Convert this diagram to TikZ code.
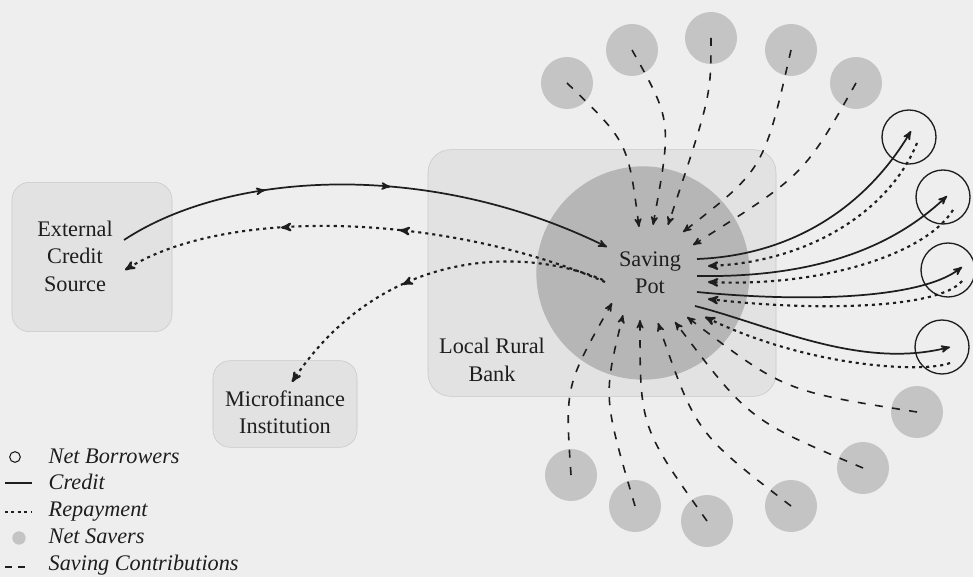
\documentclass[tikz,border=0pt]{standalone}
\usepackage{fontspec}
\setmainfont{Liberation Serif}
\usetikzlibrary{arrows,calc,decorations.markings}

\definecolor{bgcol}{HTML}{EEEEEE}
\definecolor{boxcol}{HTML}{E2E2E2}
\definecolor{boxline}{HTML}{C8C8C8}
\definecolor{potcol}{HTML}{B6B6B6}
\definecolor{savercol}{HTML}{C4C4C4}
\definecolor{inkcol}{HTML}{1E1E1E}

\tikzset{
  inst/.style={draw=boxline, fill=boxcol, rounded corners=13pt},
  lbl/.style={text=inkcol, align=center, font=\fontsize{16.7}{20.6}\selectfont},
  lgd/.style={text=inkcol, anchor=base west, font=\fontsize{16.7}{20.6}\selectfont\itshape},
  saver/.style={circle, fill=savercol, minimum size=39pt, inner sep=0pt},
  borrower/.style={circle, draw=inkcol, line width=1pt, minimum size=40.5pt, inner sep=0pt},
  credit/.style={draw=inkcol, line width=1.3pt, -stealth'},
  repay/.style={draw=inkcol, line width=1.6pt, dash pattern=on 2.3pt off 3pt, -stealth'},
  contrib/.style={draw=inkcol, line width=1.2pt, dash pattern=on 6pt off 7pt, -stealth'},
  midarrows/.style 2 args={postaction={decorate}, decoration={markings,
    mark=at position #1 with {\arrow{stealth'}},
    mark=at position #2 with {\arrow{stealth'}}}},
}

\begin{document}
\begin{tikzpicture}[x=0.75pt, y=-0.75pt]
  \fill[bgcol] (0,0) rectangle (973,577);
  \useasboundingbox (0,0) rectangle (973,577);

  % institutions
  \node[inst, rounded corners=17pt, minimum width=261pt, minimum height=185pt] (bank) at (602,273) {};
  \node[circle, fill=potcol, minimum size=160pt, inner sep=0pt] (pot) at (643,273) {};
  \node[inst, minimum width=120pt, minimum height=112pt] (ecs) at (92,257) {};
  \node[inst, minimum width=108pt, minimum height=65pt] (mfi) at (285,404) {};

  % savers and borrowers
  \foreach \n/\p in {s1/{567,83}, s2/{632,50}, s3/{711,38}, s4/{791,50}, s5/{856,83},
                     b1/{571,475}, b2/{635,506}, b3/{707,521}, b4/{791,506}, b5/{863,468}, b6/{917,412}}
    \node[saver] (\n) at (\p) {};
  \foreach \n/\p in {nb1/{909,137}, nb2/{943,197}, nb3/{948,270}, nb4/{942,347}}
    \node[borrower] (\n) at (\p) {};

  % saving contributions
  \foreach \n/\c/\t in {s1/{628,142}/{-4,-46}, s2/{672,121}/{10,-48}, s3/{711,96}/{25,-48},
                        s4/{764,169}/{40,-41}, s5/{804,175}/{50,-28},
                        b1/{565,386}/{-31,30}, b2/{603,397}/{-20,42}, b3/{640,427}/{-3,47},
                        b4/{696,433}/{15,50}, b5/{749,420}/{32,49}, b6/{784,391}/{44,44}}
    \draw[contrib] (\n.center) .. controls (\c) .. ($(pot)+(\t)$);

  % credit and repayment with the borrowers
  \draw[credit] ($(pot)+(54,-14)$) .. controls (800,255) and (870,200) .. ($(nb1)+(2,-6)$);
  \draw[repay]  ($(nb1)+(8,6)$) .. controls (890,210) and (810,262) .. ($(pot)+(65,-7)$);
  \draw[credit] ($(pot)+(54,3)$) .. controls (820,278) and (895,245) .. ($(nb2)+(4,-1)$);
  \draw[repay]  ($(nb2)+(10,13)$) .. controls (925,255) and (820,287) .. ($(pot)+(65,9)$);
  \draw[credit] ($(pot)+(54,19)$) .. controls (800,302) and (920,300) .. ($(nb3)+(14,-3)$);
  \draw[repay]  ($(nb3)+(14,11)$) .. controls (940,308) and (820,312) .. ($(pot)+(65,26)$);
  \draw[credit] ($(pot)+(52,33)$) .. controls (770,325) and (860,370) .. ($(nb4)+(8,0)$);
  \draw[repay]  ($(nb4)+(8,16)$) .. controls (925,373) and (810,368) .. ($(pot)+(62,44)$);

  % external credit and microfinance
  \draw[credit, midarrows={0.3}{0.55}] ($(ecs)+(32,-17)$) .. controls (230,170) and (430,160) .. ($(pot)+(-36,-26)$);
  \draw[repay, midarrows={0.43}{0.67}] ($(pot)+(-38,9)$) .. controls (450,215) and (230,205) .. ($(ecs)+(33,13)$);
  \draw[repay, postaction={decorate}, decoration={markings, mark=at position 0.58 with {\arrow{stealth'}}}]
    ($(pot)+(-40,7)$) .. controls (520,245) and (380,250) .. ($(mfi)+(7,-22)$);

  % labels
  \node[lbl] (ecslbl) at (75,256) {External\\Credit\\Source};
  \node[lbl] (mfilbl) at (285,412) {Microfinance\\Institution};
  \node[lbl] (banklbl) at (492,360) {Local Rural\\Bank};
  \node[lbl] (potlbl) at (650,273) {Saving\\Pot};

  % legend
  \node[circle, draw=inkcol, line width=0.8pt, minimum size=8pt, inner sep=0pt] (keyb) at (15,457) {};
  \node[lgd] (keybt) at (44,463) {Net Borrowers};
  \draw[inkcol, line width=1.2pt] (5,483) -- (32,483);
  \node[lgd] (keyct) at (44,489) {Credit};
  \draw[inkcol, line width=1.4pt, dash pattern=on 2.2pt off 2.6pt] (5,512) -- (32,512);
  \node[lgd] (keyrt) at (44,516) {Repayment};
  \node[circle, fill=savercol, minimum size=10pt, inner sep=0pt] (keys) at (19,538) {};
  \node[lgd] (keyst) at (44,543) {Net Savers};
  \draw[inkcol, line width=1.2pt, dash pattern=on 5pt off 5pt] (5,567) -- (30,567);
  \node[lgd] (keyscont) at (44,570) {Saving Contributions};
\end{tikzpicture}
\end{document}
